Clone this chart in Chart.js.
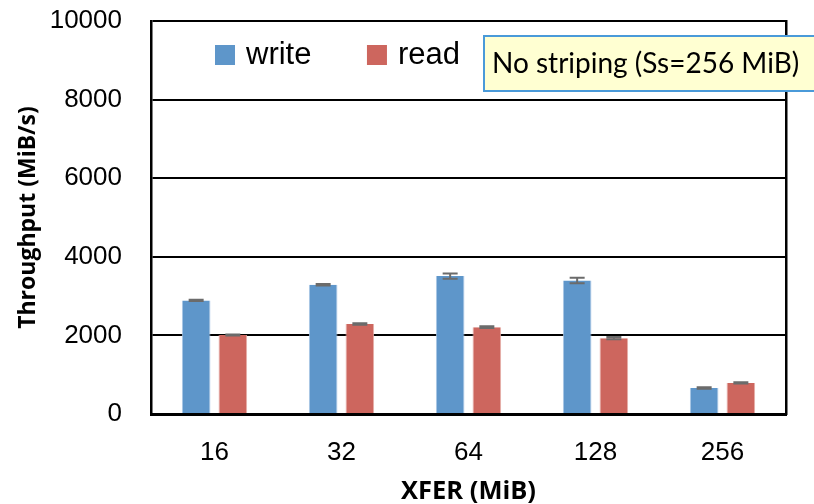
<!DOCTYPE html>
<html>
<head>
<meta charset="utf-8">
<script src="https://cdn.jsdelivr.net/npm/chart.js@4/dist/chart.umd.min.js"></script>
<style>
  html, body { margin: 0; padding: 0; background: #ffffff; }
  #wrap { width: 814px; height: 504px; position: relative; }
</style>
</head>
<body>
<div id="wrap"><canvas id="chart" width="814" height="504"></canvas></div>
<script>
// Transfer sizes (MiB) on the x axis
const categories = ['16', '32', '64', '128', '256'];
// Mean throughput (MiB/s)
const writeValues = [2890, 3290, 3510, 3400, 660];
const readValues = [2010, 2290, 2210, 1930, 790];
// Spread of the repeated runs (MiB/s)
const writeErrors = [15, 20, 67, 70, 20];
const readErrors = [15, 20, 20, 30, 15];
// Y axis ticks
const yTicks = [0, 2000, 4000, 6000, 8000, 10000];
const noteText = 'No striping (Ss=256 MiB)';

const errorLists = [writeErrors, readErrors];

// Draws the error caps on top of each bar
const errorBars = {
  id: 'errorBars',
  afterDatasetsDraw(chart) {
    const ctx = chart.ctx;
    const y = chart.scales.y;
    ctx.save();
    ctx.strokeStyle = '#6b6b6b';
    ctx.lineWidth = 2;
    chart.data.datasets.forEach((ds, di) => {
      const meta = chart.getDatasetMeta(di);
      meta.data.forEach((bar, i) => {
        const v = ds.data[i];
        const e = errorLists[di][i];
        const top = y.getPixelForValue(v + e);
        const bot = y.getPixelForValue(v - e);
        const half = 7.5;
        ctx.beginPath();
        ctx.moveTo(bar.x - half, top); ctx.lineTo(bar.x + half, top);
        ctx.moveTo(bar.x - half, bot); ctx.lineTo(bar.x + half, bot);
        ctx.moveTo(bar.x, top); ctx.lineTo(bar.x, bot);
        ctx.stroke();
      });
    });
    ctx.restore();
  }
};

// Legend inside the plot area, upper left, one row
const inlineLegend = {
  id: 'inlineLegend',
  afterDraw(chart) {
    const ctx = chart.ctx;
    const a = chart.chartArea;
    const box = 20;
    const gapText = 11;
    const gapItem = 55.5;
    let x = a.left + 64;
    const yMid = 55;
    ctx.save();
    ctx.font = '31px "Liberation Sans", Arial, sans-serif';
    ctx.textBaseline = 'middle';
    ctx.textAlign = 'left';
    chart.data.datasets.forEach(ds => {
      ctx.fillStyle = ds.backgroundColor;
      ctx.fillRect(x, yMid - box / 2, box, box);
      x += box + gapText;
      ctx.fillStyle = '#000000';
      ctx.fillText(ds.label, x, yMid);
      x += ctx.measureText(ds.label).width + gapItem;
    });
    ctx.restore();
  }
};

// Note box in the upper right corner
const noteBox = {
  id: 'noteBox',
  afterDraw(chart) {
    const ctx = chart.ctx;
    ctx.save();
    ctx.fillStyle = '#ffffd2';
    ctx.strokeStyle = '#4a9ad9';
    ctx.lineWidth = 2;
    ctx.fillRect(484, 36, 340, 55);
    ctx.strokeRect(484, 36, 340, 55);
    ctx.fillStyle = '#000000';
    ctx.font = '28px Lato';
    ctx.textBaseline = 'middle';
    ctx.textAlign = 'left';
    ctx.fillText(noteText, 492, 64);
    ctx.restore();
  }
};

new Chart(document.getElementById('chart'), {
  type: 'bar',
  data: {
    labels: categories,
    datasets: [
      {
        label: 'write',
        data: writeValues,
        backgroundColor: '#5e96ca',
        borderColor: '#a9c7e6',
        borderWidth: { left: 1, right: 1, top: 0, bottom: 0 },
        categoryPercentage: 0.578,
        barPercentage: 0.78
      },
      {
        label: 'read',
        data: readValues,
        backgroundColor: '#cd665e',
        borderColor: '#e6b0ab',
        borderWidth: { left: 1, right: 1, top: 0, bottom: 0 },
        categoryPercentage: 0.578,
        barPercentage: 0.78
      }
    ]
  },
  options: {
    responsive: false,
    animation: false,
    events: [],
    layout: { padding: { left: 0, right: 28, top: 21, bottom: 0 } },
    plugins: {
      tooltip: { enabled: false },
      legend: { display: false }
    },
    scales: {
      x: {
        grid: { display: false, drawTicks: false },
        border: { display: true, color: '#000000', width: 3 },
        ticks: {
          color: '#000000',
          padding: 23,
          font: { family: '"Liberation Sans", Arial, sans-serif', size: 26 }
        },
        title: {
          display: true,
          text: 'XFER (MiB)',
          color: '#000000',
          padding: 0,
          font: { family: '"Open Sans", sans-serif', size: 25.5, weight: 'bold', lineHeight: 1 }
        },
        afterFit(scale) { scale.height = 90; }
      },
      y: {
        min: 0,
        max: 10000,
        afterBuildTicks(scale) { scale.ticks = yTicks.map(v => ({ value: v })); },
        grid: { color: '#000000', lineWidth: 2, drawTicks: true, tickLength: 29, tickColor: 'rgba(0,0,0,0)' },
        border: { display: true, color: '#000000', width: 2.5 },
        ticks: {
          color: '#000000',
          padding: 0,
          callback: v => String(v),
          font: { family: '"Liberation Sans", Arial, sans-serif', size: 26 }
        },
        title: {
          display: true,
          text: 'Throughput (MiB/s)',
          color: '#000000',
          padding: { top: 15, bottom: 0 },
          font: { family: '"Open Sans", sans-serif', size: 23, weight: 'bold', lineHeight: 1.2 }
        },
        afterFit(scale) { scale.width = 151; }
      },
      yRight: {
        position: 'right',
        min: 0,
        max: 10000,
        grid: { display: false, drawOnChartArea: false, drawTicks: false },
        border: { display: true, color: '#000000', width: 2.5 },
        ticks: { display: false },
        afterFit(scale) { scale.width = 0; }
      }
    }
  },
  plugins: [errorBars, inlineLegend, noteBox]
});
</script>
</body>
</html>
